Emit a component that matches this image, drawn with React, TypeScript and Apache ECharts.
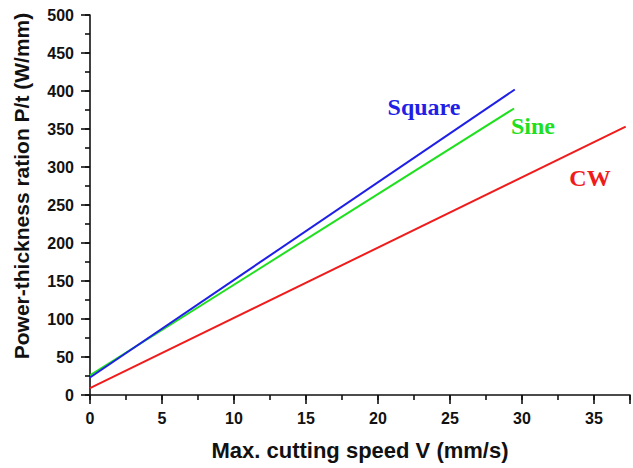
import React, { useEffect, useRef } from "react";
import * as echarts from "echarts";

const xTicks = [0, 5, 10, 15, 20, 25, 30, 35];
const yTicks = [0, 50, 100, 150, 200, 250, 300, 350, 400, 450, 500];
const seriesNames = ["Square", "Sine", "CW"];
const squareSpeed = [0, 29.5];
const squarePower = [23, 402];
const sineSpeed = [0, 29.45];
const sinePower = [26, 377];
const cwSpeed = [0, 37.2];
const cwPower = [9, 353];

const colors = ["#1f1fe6", "#1fe01f", "#f01c1c"];

export default function App() {
  const ref = useRef<HTMLDivElement>(null);
  useEffect(() => {
    if (!ref.current) return;
    const chart = echarts.init(ref.current, null, { renderer: "svg" });
    const pairs = (xs: number[], ys: number[]) => xs.map((x, i) => [x, ys[i]]);
    const axisFont = { fontFamily: "Liberation Sans", fontWeight: "bold" as const, fontSize: 16, color: "#111" };
    const lineStyle = { color: "#111", width: 1.6 };
    chart.setOption({
      animation: false,
      grid: { left: 90, top: 15, width: 543, height: 380 },
      xAxis: [
        {
          type: "value",
          min: 0,
          max: 37.5,
          interval: 2.5,
          axisLine: { show: true, lineStyle },
          axisTick: { show: true, length: 5, lineStyle },
          axisLabel: {
            ...axisFont,
            margin: 15,
            formatter: (v: number) => (xTicks.includes(v) ? String(v) : ""),
          },
          splitLine: { show: false },
          name: "Max. cutting speed V (mm/s)",
          nameLocation: "middle",
          nameGap: 44,
          nameTextStyle: { fontFamily: "Liberation Sans", fontWeight: "bold", fontSize: 22, color: "#111" },
        },
        {
          type: "value",
          position: "bottom",
          min: 0,
          max: 37.5,
          interval: 5,
          axisLine: { show: false },
          axisTick: { show: true, length: 9, lineStyle },
          axisLabel: { show: false },
          splitLine: { show: false },
        },
      ],
      yAxis: [
        {
          type: "value",
          min: 0,
          max: 500,
          interval: 25,
          axisLine: { show: true, lineStyle },
          axisTick: { show: true, length: 5, lineStyle },
          axisLabel: {
            ...axisFont,
            margin: 16,
            formatter: (v: number) => (yTicks.includes(v) ? String(v) : ""),
          },
          splitLine: { show: false },
        },
        {
          type: "value",
          position: "left",
          min: 0,
          max: 500,
          interval: 50,
          axisLine: { show: false },
          axisTick: { show: true, length: 9, lineStyle },
          axisLabel: { show: false },
          splitLine: { show: false },
        },
      ],
      graphic: [
        {
          type: "text",
          x: 21,
          y: 186,
          rotation: Math.PI / 2,
          style: {
            text: "Power-thickness ration P/t (W/mm)",
            fontFamily: "Liberation Sans",
            fontWeight: "bold",
            fontSize: 21,
            fill: "#111",
            textAlign: "center",
            textVerticalAlign: "middle",
          },
        },
        {
          type: "text",
          x: 424,
          y: 107,
          style: {
            text: seriesNames[0],
            fontFamily: "Liberation Serif",
            fontWeight: "bold",
            fontSize: 24,
            fill: colors[0],
            textAlign: "center",
            textVerticalAlign: "middle",
          },
        },
        {
          type: "text",
          x: 533,
          y: 126,
          style: {
            text: seriesNames[1],
            fontFamily: "Liberation Serif",
            fontWeight: "bold",
            fontSize: 24,
            fill: colors[1],
            textAlign: "center",
            textVerticalAlign: "middle",
          },
        },
        {
          type: "text",
          x: 590,
          y: 178,
          style: {
            text: seriesNames[2],
            fontFamily: "Liberation Serif",
            fontWeight: "bold",
            fontSize: 24,
            fill: colors[2],
            textAlign: "center",
            textVerticalAlign: "middle",
          },
        },
      ],
      series: [
        { name: seriesNames[2], type: "line", data: pairs(cwSpeed, cwPower), showSymbol: false, lineStyle: { color: colors[2], width: 2 } },
        { name: seriesNames[1], type: "line", data: pairs(sineSpeed, sinePower), showSymbol: false, lineStyle: { color: colors[1], width: 2 } },
        { name: seriesNames[0], type: "line", data: pairs(squareSpeed, squarePower), showSymbol: false, lineStyle: { color: colors[0], width: 2 } },
      ],
    });
    return () => chart.dispose();
  }, []);
  return <div ref={ref} style={{ position: "fixed", left: 0, top: 0, width: 633, height: 468, background: "#fff" }} />;
}
